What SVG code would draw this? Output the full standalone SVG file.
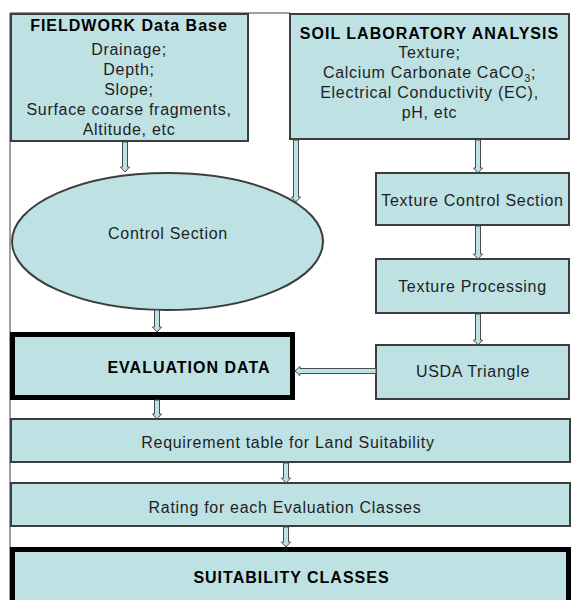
<svg xmlns="http://www.w3.org/2000/svg" width="571" height="600" viewBox="0 0 571 600">
  <style>
    .box { fill: #bee1e4; stroke: #3d3d3d; stroke-width: 2; }
    .heavy { fill: #bee1e4; stroke: #000; stroke-width: 5; }
    .frame { fill: none; stroke: #808080; stroke-width: 1.5; }
    .t { font-family: "Liberation Sans", Arial, sans-serif; font-size: 16px; letter-spacing: 0.7px; fill: #1e1e1e; text-anchor: middle; }
    .b { font-weight: bold; letter-spacing: 1px; fill: #000; }
    .arr { fill: #bee1e4; stroke: #4a4a4a; stroke-width: 1; }
  </style>

  <rect width="571" height="600" fill="#fff"/>

  <!-- outer frame: left and top rules -->
  <path class="frame" d="M10 13 V600 M10 13 H290"/>

  <g id="fieldwork">
    <rect class="box" x="11" y="14" width="237" height="127"/>
    <text class="t b" x="129" y="31">FIELDWORK Data Base</text>
    <text class="t" x="129" y="55">Drainage;</text>
    <text class="t" x="129" y="75">Depth;</text>
    <text class="t" x="129" y="95">Slope;</text>
    <text class="t" x="129" y="115">Surface coarse fragments,</text>
    <text class="t" x="129" y="135">Altitude, etc</text>
  </g>

  <g id="soil-lab">
    <rect class="box" x="290" y="14" width="279" height="125"/>
    <text class="t b" x="429.5" y="39">SOIL LABORATORY ANALYSIS</text>
    <text class="t" x="429.5" y="58">Texture;</text>
    <text class="t" x="429.5" y="78">Calcium Carbonate CaCO<tspan font-size="11" dy="4">3</tspan><tspan dy="-4">;</tspan></text>
    <text class="t" x="429.5" y="98">Electrical Conductivity (EC),</text>
    <text class="t" x="429.5" y="118">pH, etc</text>
  </g>

  <g id="control-section">
    <ellipse class="box" cx="167.5" cy="241.5" rx="155.5" ry="68.5" stroke-width="1.5"/>
    <text class="t" x="168" y="239">Control Section</text>
  </g>

  <g id="texture-control">
    <rect class="box" x="376" y="173" width="193" height="52"/>
    <text class="t" x="472.5" y="206">Texture Control Section</text>
  </g>

  <g id="texture-processing">
    <rect class="box" x="376" y="259" width="193" height="54"/>
    <text class="t" x="472.5" y="292">Texture Processing</text>
  </g>

  <g id="usda-triangle">
    <rect class="box" x="376" y="345" width="193" height="54"/>
    <text class="t" x="473" y="377">USDA Triangle</text>
  </g>

  <g id="evaluation-data">
    <rect class="heavy" x="12.5" y="334.5" width="280" height="63"/>
    <text class="t b" x="189" y="373">EVALUATION DATA</text>
  </g>

  <g id="requirement-table">
    <rect class="box" x="11" y="419" width="559" height="43"/>
    <text class="t" x="288" y="448">Requirement table for Land Suitability</text>
  </g>

  <g id="rating">
    <rect class="box" x="11" y="483" width="559" height="43"/>
    <text class="t" x="285" y="513">Rating for each Evaluation Classes</text>
  </g>

  <g id="suitability-classes">
    <rect class="heavy" x="12.5" y="549.5" width="556" height="60"/>
    <text class="t b" x="291.5" y="583">SUITABILITY CLASSES</text>
  </g>

  <g id="connectors">
    <path class="arr" d="M122.5 142 V167 H120.5 L125 172 L129.5 167 H127.5 V142 Z"/>
    <path class="arr" d="M293.5 140 V197 H291.5 L296 202 L300.5 197 H298.5 V140 Z"/>
    <path class="arr" d="M475.5 140 V168 H473.5 L478 173 L482.5 168 H480.5 V140 Z"/>
    <path class="arr" d="M475.5 226 V254 H473.5 L478 259 L482.5 254 H480.5 V226 Z"/>
    <path class="arr" d="M475.5 314 V340 H473.5 L478 345 L482.5 340 H480.5 V314 Z"/>
    <path class="arr" d="M376 368.5 H300 V366.5 L295 371 L300 375.5 V373.5 H376 Z"/>
    <path class="arr" d="M154.5 310 V327 H152.5 L157 332 L161.5 327 H159.5 V310 Z"/>
    <path class="arr" d="M154.5 400 V414 H152.5 L157 419 L161.5 414 H159.5 V400 Z"/>
    <path class="arr" d="M283.5 463 V478 H281.5 L286 483 L290.5 478 H288.5 V463 Z"/>
    <path class="arr" d="M283.5 527 V542 H281.5 L286 547 L290.5 542 H288.5 V527 Z"/>
  </g>
</svg>
